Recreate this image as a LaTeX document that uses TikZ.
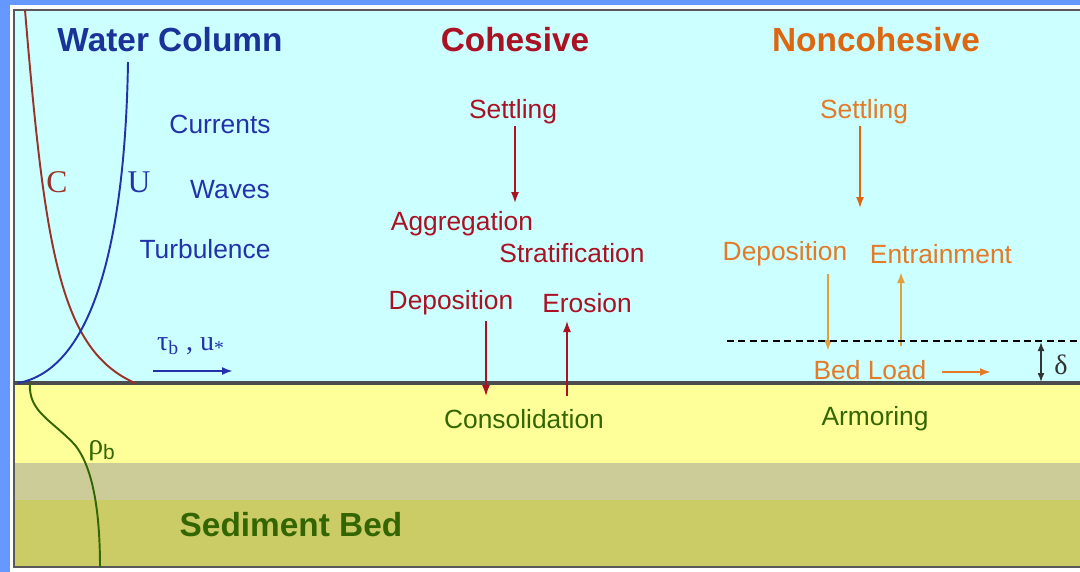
\documentclass[tikz,border=0pt]{standalone}
\usepackage{fontspec}
\setmainfont{Liberation Sans}
\newfontfamily\serifont{Liberation Serif}
\usepackage{tikz}
\usetikzlibrary{arrows.meta, positioning, calc}
\definecolor{frameblue}{RGB}{102,153,255}
\definecolor{waterc}{RGB}{204,255,255}
\definecolor{bedyel}{RGB}{255,255,153}
\definecolor{bedtan}{RGB}{204,204,153}
\definecolor{bedolive}{RGB}{204,204,102}
\definecolor{wblue}{RGB}{26,51,153}
\definecolor{lblue}{RGB}{34,51,170}
\definecolor{cred}{RGB}{170,17,34}
\definecolor{corange}{RGB}{221,102,17}
\definecolor{norange}{RGB}{226,122,40}
\definecolor{narrow}{RGB}{226,160,60}
\definecolor{bgreen}{RGB}{51,102,0}
\definecolor{cbrown}{RGB}{153,51,40}
\tikzset{
  ttl/.style ={font=\fontsize{19}{21}\selectfont\bfseries, inner sep=1pt},
  lab/.style ={font=\fontsize{15}{17}\selectfont, inner sep=1pt},
  sym/.style ={font=\fontsize{18}{20}\selectfont\serifont, inner sep=1pt},
  fl/.style  ={-{Latex[length=2.2mm, width=1.6mm]}, line width=1.1pt},
  fl2/.style ={{Latex[length=1.8mm, width=1.4mm]}-{Latex[length=1.8mm, width=1.4mm]}, line width=0.9pt},
}
\begin{document}
\begin{tikzpicture}[x=0.02cm, y=-0.02cm]
  \useasboundingbox (0,0) rectangle (1080,572);
  % frame and layers
  \fill[frameblue] (0,0) rectangle (1080,572);
  \fill[white] (10,5) rectangle (1080,572);
  \fill[waterc] (14,10) rectangle (1080,383);
  \fill[bedyel] (14,383) rectangle (1080,463);
  \fill[bedtan] (14,463) rectangle (1080,500);
  \fill[bedolive] (14,500) rectangle (1080,567);
  \draw[black!65, line width=1.5pt] (1080,10) -- (14,10) -- (14,567) -- (1080,567);
  \draw[black!70, line width=1.8pt] (14,383) -- (1080,383);

  % profiles
  \draw[cbrown, line width=1.1pt] (25,10) .. controls (45,250) and (60,350) .. (135,383);
  \draw[lblue, line width=1.1pt] (128,62) .. controls (125,250) and (90,370) .. (18,383);
  \draw[bgreen, line width=1.1pt] (30,383) .. controls (28,412) and (52,420) .. (75,445)
    .. controls (95,470) and (100,520) .. (100,567);
  \node[sym, cbrown] (cl) at (57,182) {C};
  \node[sym, lblue] (ul) at (139,182) {U};
  \node[lab, bgreen, font=\fontsize{17}{19}\selectfont] (rho) at (102,451) {{\serifont ρ}\textsubscript{b}};

  % water column
  \node[ttl, wblue] (wc) at (170,40) {Water Column};
  \node[lab, lblue] (cur) at (220,124) {Currents};
  \node[lab, lblue] (wav) at (230,190) {Waves};
  \node[lab, lblue] (tur) at (205,249) {Turbulence};
  \node[lab, lblue, font=\fontsize{16}{18}\selectfont\serifont] (tau) at (191,346) {τ\textsubscript{b} , u\textsubscript{*}};
  \coordinate (s0) at (153,371);
  \coordinate (s1) at (233,371);
  \draw[fl, lblue] (s0) -- (s1);

  % cohesive
  \node[ttl, cred] (coh) at (515,40) {Cohesive};
  \node[lab, cred] (set1) at (513,112) {Settling};
  \node[lab, cred] (agg) at (462,224) {Aggregation};
  \node[lab, cred] (str) at (572,253) {Stratification};
  \node[lab, cred] (dep1) at (451,303) {Deposition};
  \node[lab, cred] (ero) at (587,303) {Erosion};
  \node[lab, bgreen] (cons) at (524,419) {Consolidation};
  \coordinate (a1) at (515,203);
  \coordinate (d0) at (486,321);
  \coordinate (d1) at (486,396);
  \coordinate (e0) at (567,396);
  \coordinate (e1) at (567,321);
  \draw[fl, cred, line width=0.9pt] (set1.south -| a1) -- (a1);
  \draw[fl, cred, line width=0.9pt] (d0) -- (d1);
  \draw[fl, cred, line width=0.9pt] (e0) -- (e1);

  % noncohesive
  \node[ttl, corange] (non) at (876,40) {Noncohesive};
  \node[lab, norange] (set2) at (864,112) {Settling};
  \node[lab, norange] (dep2) at (785,254) {Deposition};
  \node[lab, norange] (ent) at (941,254) {Entrainment};
  \node[lab, norange] (bl) at (870,370) {Bed Load};
  \node[lab, bgreen] (arm) at (875,419) {Armoring};
  \node[sym, black!80, font=\fontsize{16}{18}\selectfont\serifont] (del) at (1061,365) {δ};
  \coordinate (a2) at (860,208);
  \coordinate (n0) at (828,274);
  \coordinate (n1) at (828,351);
  \coordinate (m0) at (901,346);
  \coordinate (m1) at (901,272);
  \coordinate (b0) at (942,372);
  \coordinate (b1) at (991,372);
  \coordinate (h0) at (727,341);
  \coordinate (h1) at (1078,341);
  \coordinate (g0) at (1041,342);
  \coordinate (g1) at (1041,382);
  \draw[fl, corange, line width=0.9pt] (set2.south -| a2) -- (a2);
  \draw[fl, narrow] (n0) -- (n1);
  \draw[fl, narrow] (m0) -- (m1);
  \draw[fl, norange] (b0) -- (b1);
  \draw[black, dashed, line width=0.8pt, dash pattern=on 4pt off 2.5pt] (h0) -- (h1);
  \draw[fl2, black!80] (g0) -- (g1);

  % bed
  \node[ttl, bgreen] (sed) at (291,525) {Sediment Bed};
\end{tikzpicture}
\end{document}
